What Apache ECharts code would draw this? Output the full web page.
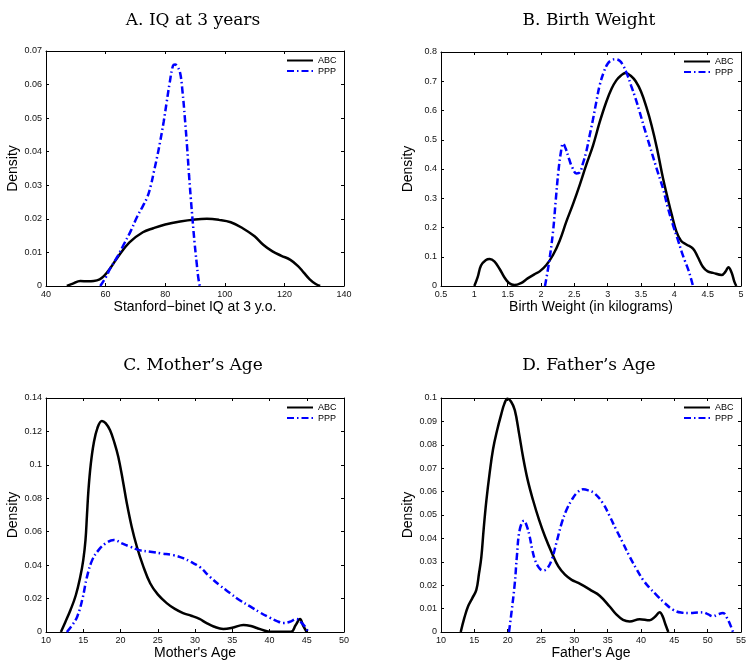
<!DOCTYPE html>
<html>
<head>
<meta charset="utf-8">
<script src="https://cdn.jsdelivr.net/npm/echarts@6/dist/echarts.min.js"></script>
<style>html,body{margin:0;padding:0;background:#fff}#c{width:754px;height:669px}</style>
</head>
<body>
<div id="c"></div>
<script>
// ---- Data ----
const panelTitles = ['A. IQ at 3 years', 'B. Birth Weight', 'C. Mother\u2019s Age', 'D. Father\u2019s Age'];
const xNames = ['Stanford\u2212binet IQ at 3 y.o.', 'Birth Weight (in kilograms)', 'Mother\'s Age', 'Father\'s Age'];
const yName = 'Density';
const seriesNames = ['ABC', 'PPP'];
const xRanges = [[40, 140, 20], [0.5, 5, 0.5], [10, 50, 5], [10, 55, 5]];
const yRanges = [[0, 0.07, 0.01], [0, 0.8, 0.1], [0, 0.14, 0.02], [0, 0.1, 0.01]];

const abcIQ = [[47,0],[49,0.0007],[51.5,0.0015],[54,0.0014],[56,0.0015],[58,0.002],[59.5,0.003],[61.5,0.0052],[64,0.0085],[68,0.013],[72.5,0.016],[76,0.0172],[80,0.0183],[85,0.0192],[90,0.0198],[94,0.02],[98,0.0197],[102,0.019],[106,0.0172],[110,0.0148],[113,0.0122],[116,0.0103],[119,0.009],[122,0.0078],[124.5,0.006],[126.5,0.004],[128.5,0.002],[130.5,0.0006],[132,0]];
const pppIQ = [[58.2,0],[60,0.0025],[61.6,0.0053],[64,0.0088],[66,0.0122],[68.5,0.0165],[70.5,0.0205],[72.5,0.0238],[74,0.0265],[75.2,0.03],[76.2,0.034],[77.3,0.0385],[78.3,0.043],[79.5,0.049],[80.5,0.0548],[81.5,0.0605],[82.6,0.0656],[83.3,0.066],[84,0.0655],[85,0.0635],[85.8,0.058],[86.6,0.05],[87.3,0.042],[88,0.033],[88.6,0.026],[89.2,0.0195],[89.9,0.0125],[90.6,0.0065],[91.1,0.0025],[91.6,0]];
const abcBW = [[1.0,0],[1.05,0.03],[1.1,0.07],[1.17,0.088],[1.23,0.092],[1.3,0.084],[1.38,0.058],[1.45,0.03],[1.52,0.01],[1.6,0.003],[1.7,0.01],[1.8,0.026],[1.9,0.04],[1.98,0.05],[2.08,0.072],[2.18,0.106],[2.28,0.155],[2.38,0.22],[2.48,0.28],[2.58,0.345],[2.68,0.415],[2.78,0.48],[2.88,0.56],[2.98,0.63],[3.06,0.675],[3.13,0.703],[3.2,0.72],[3.27,0.728],[3.35,0.718],[3.42,0.7],[3.5,0.665],[3.58,0.612],[3.66,0.548],[3.74,0.47],[3.83,0.368],[3.9,0.3],[3.96,0.245],[4.03,0.187],[4.1,0.155],[4.18,0.142],[4.28,0.128],[4.35,0.1],[4.43,0.065],[4.5,0.05],[4.58,0.045],[4.71,0.038],[4.77,0.05],[4.81,0.064],[4.86,0.045],[4.9,0.015],[4.93,0]];
const pppBW = [[2.06,0],[2.12,0.08],[2.18,0.185],[2.22,0.29],[2.26,0.39],[2.3,0.46],[2.33,0.487],[2.37,0.47],[2.42,0.435],[2.47,0.405],[2.53,0.385],[2.58,0.388],[2.63,0.42],[2.68,0.46],[2.73,0.515],[2.78,0.57],[2.83,0.63],[2.88,0.686],[2.94,0.73],[3.0,0.76],[3.06,0.772],[3.12,0.775],[3.18,0.77],[3.23,0.755],[3.29,0.725],[3.35,0.686],[3.42,0.64],[3.48,0.595],[3.55,0.54],[3.63,0.48],[3.73,0.405],[3.83,0.333],[3.9,0.27],[3.98,0.208],[4.05,0.16],[4.11,0.117],[4.16,0.085],[4.21,0.055],[4.25,0.025],[4.28,0]];
const abcMA = [[12,0],[12.6,0.006],[13.3,0.0133],[14,0.022],[14.6,0.033],[15.0,0.043],[15.3,0.055],[15.5,0.07],[15.7,0.085],[16,0.1],[16.4,0.1128],[16.9,0.122],[17.5,0.1263],[18.0,0.125],[18.6,0.1207],[19.2,0.113],[19.7,0.1048],[20.3,0.091],[20.85,0.077],[21.5,0.063],[22.2,0.051],[23.0,0.04],[24.0,0.029],[25,0.0225],[26.2,0.0173],[27.3,0.0138],[28.4,0.0113],[29.5,0.0097],[30.6,0.0078],[31.5,0.0055],[32.5,0.0033],[33.8,0.0018],[35,0.0025],[36.5,0.0042],[37.5,0.0036],[38.3,0.0024],[39.2,0.001],[40.1,0.0002],[42.9,0.0002],[43.5,0.004],[44.1,0.0078],[44.5,0.004],[45,0]];
const pppMA = [[12.8,0],[13.5,0.004],[14.2,0.0093],[14.9,0.02],[15.5,0.033],[16.2,0.043],[17.05,0.049],[18,0.053],[19.1,0.055],[20.2,0.053],[21.3,0.051],[22.5,0.049],[24,0.048],[25.5,0.047],[27.1,0.046],[28.5,0.044],[29.4,0.042],[30.6,0.039],[32,0.033],[33.3,0.028],[34.7,0.0233],[36,0.019],[37.4,0.0153],[38.8,0.0115],[40.1,0.0084],[41,0.0065],[41.9,0.0054],[42.8,0.0062],[43.6,0.0078],[44.2,0.006],[44.8,0.003],[45.2,0]];
const abcFA = [[12.96,0],[13.5,0.006],[14.05,0.0109],[14.7,0.0145],[15.3,0.018],[15.7,0.025],[16.05,0.032],[16.4,0.044],[16.8,0.056],[17.3,0.068],[17.8,0.078],[18.4,0.086],[19.07,0.0934],[19.5,0.0975],[19.97,0.0997],[20.5,0.0985],[21.07,0.0948],[21.7,0.085],[22.3,0.0749],[23.0,0.065],[23.8,0.0564],[24.7,0.048],[25.6,0.0408],[26.6,0.034],[27.6,0.028],[28.6,0.0245],[29.6,0.0223],[30.6,0.021],[31.6,0.0194],[32.5,0.0178],[33.8,0.0155],[35.3,0.0109],[36.3,0.0075],[37.3,0.0052],[38.3,0.0045],[39.8,0.0055],[41.3,0.005],[42.1,0.0065],[42.8,0.0084],[43.2,0.007],[43.7,0.003],[44.1,0]];
const pppFA = [[20.2,0],[20.6,0.009],[21.07,0.0209],[21.4,0.033],[21.8,0.0436],[22.45,0.0476],[22.9,0.045],[23.3,0.0408],[23.7,0.035],[24.1,0.0308],[24.7,0.0275],[25.3,0.0263],[25.9,0.027],[26.6,0.0308],[27.3,0.038],[28.1,0.0465],[28.8,0.052],[29.6,0.0564],[30.4,0.0595],[31.3,0.061],[32.1,0.0605],[33.0,0.0593],[34.3,0.055],[35.3,0.0495],[36.3,0.0436],[37.3,0.038],[38.3,0.0322],[39.3,0.027],[40.3,0.0223],[41.3,0.0188],[42.3,0.0159],[43.5,0.0125],[44.8,0.0095],[46,0.0083],[47.3,0.0081],[48.5,0.0083],[49.3,0.0084],[50.1,0.0075],[50.8,0.0067],[51.5,0.0075],[52.3,0.0081],[52.9,0.006],[53.4,0.003],[53.8,0]];

const abcData = [abcIQ, abcBW, abcMA, abcFA];
const pppData = [pppIQ, pppBW, pppMA, pppFA];

// ---- Layout / styling ----
const grids = [
  {left: 46, top: 51, width: 298, height: 235},
  {left: 441, top: 52, width: 300, height: 234},
  {left: 46, top: 398, width: 298, height: 234},
  {left: 441, top: 398, width: 300, height: 234}
];
const titlePos = [[188, 7], [584, 7], [188, 352], [584, 352]];
const legendPos = [[286, 56], [683, 57], [286, 403], [683, 403]];

const sans = "'Liberation Sans', Arial, sans-serif";
const fmt = v => String(parseFloat(v.toFixed(4)));

const option = {
  backgroundColor: '#fff',
  animation: false,
  title: [], grid: [], xAxis: [], yAxis: [], legend: [], series: []
};

function axisBase(range, gi, pos, showLabel) {
  return {
    type: 'value', gridIndex: gi, position: pos,
    min: range[0], max: range[1], interval: range[2],
    axisLine: {show: true, onZero: false, lineStyle: {color: '#000', width: 1}},
    axisTick: {show: true, inside: true, length: 3, lineStyle: {color: '#000'}},
    axisLabel: {show: showLabel, color: '#111', fontSize: 9, fontFamily: sans, margin: 4, formatter: fmt},
    splitLine: {show: false}
  };
}

for (let i = 0; i < 4; i++) {
  option.title.push({
    text: panelTitles[i], left: titlePos[i][0], top: titlePos[i][1], textAlign: 'center',
    textStyle: {fontFamily: "'DejaVu Serif', serif", fontWeight: 'normal', fontSize: 17, color: '#000'}
  });
  option.grid.push(Object.assign({containLabel: false}, grids[i]));
  const xb = axisBase(xRanges[i], i, 'bottom', true);
  xb.name = xNames[i]; xb.nameLocation = 'middle'; xb.nameGap = 14;
  xb.nameTextStyle = {fontFamily: sans, fontSize: 14, color: '#000'};
  option.xAxis.push(xb);
  option.xAxis.push(axisBase(xRanges[i], i, 'top', false));
  const yl = axisBase(yRanges[i], i, 'left', true);
  yl.name = yName; yl.nameLocation = 'middle'; yl.nameGap = 26;
  yl.nameTextStyle = {fontFamily: sans, fontSize: 14, color: '#000'};
  option.yAxis.push(yl);
  option.yAxis.push(axisBase(yRanges[i], i, 'right', false));
  option.legend.push({
    data: seriesNames, orient: 'vertical', left: legendPos[i][0], top: legendPos[i][1],
    padding: 0, itemWidth: 26, itemHeight: 10, itemGap: 1.6,
    itemStyle: {opacity: 0},
    textStyle: {fontFamily: sans, fontSize: 9, color: '#000'},
    selectedMode: false
  });
  option.series.push({
    name: seriesNames[0], type: 'line', xAxisIndex: 2 * i, yAxisIndex: 2 * i,
    data: abcData[i], symbol: 'none', smooth: 0.4,
    lineStyle: {color: '#000', width: 2.5}, itemStyle: {color: '#000'}
  });
  option.series.push({
    name: seriesNames[1], type: 'line', xAxisIndex: 2 * i, yAxisIndex: 2 * i,
    data: pppData[i], symbol: 'none', smooth: 0.4,
    lineStyle: {color: '#0000ff', width: 2.5, type: [7, 3, 1.5, 3]}, itemStyle: {color: '#0000ff'}
  });
}

const chart = echarts.init(document.getElementById('c'), null, {renderer: 'canvas'});
chart.setOption(option);
</script>
</body>
</html>
